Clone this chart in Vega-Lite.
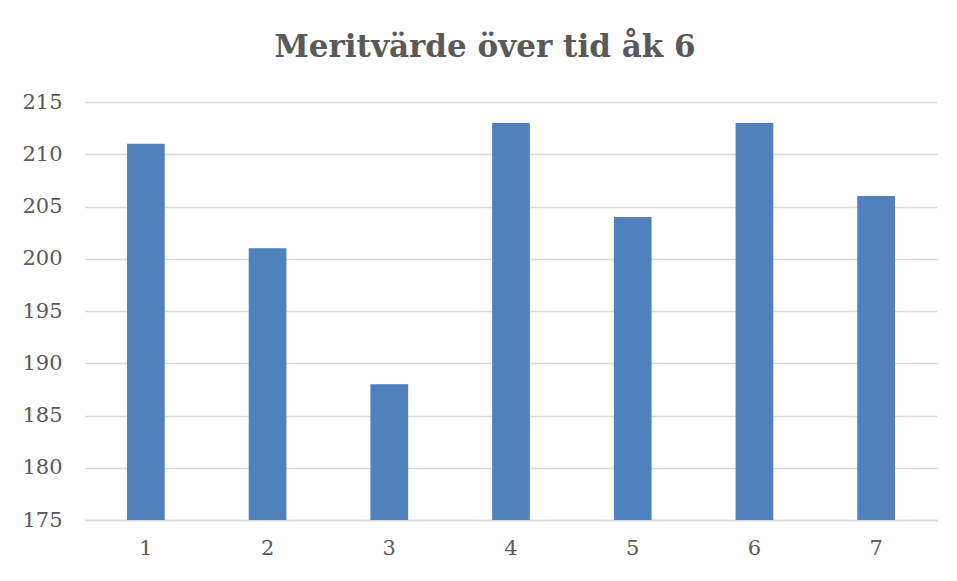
{
  "$schema": "https://vega.github.io/schema/vega-lite/v6.json",
  "autosize": "none",
  "width": 852,
  "height": 418,
  "padding": {"left": 85, "top": 102, "right": 20, "bottom": 61},
  "background": "white",
  "title": {
    "text": "Meritvärde över tid åk 6",
    "font": "DejaVu Serif",
    "fontWeight": "bold",
    "fontSize": 31,
    "color": "#595959",
    "anchor": "middle",
    "frame": "group",
    "dx": -26,
    "offset": 27
  },
  "data": {
    "values": [
      {"x": "1", "v": 211},
      {"x": "2", "v": 201},
      {"x": "3", "v": 188},
      {"x": "4", "v": 213},
      {"x": "5", "v": 204},
      {"x": "6", "v": 213},
      {"x": "7", "v": 206}
    ]
  },
  "mark": {"type": "bar", "color": "#4f81bd", "clip": true},
  "encoding": {
    "x": {
      "field": "x",
      "type": "ordinal",
      "scale": {"paddingInner": 0.69, "paddingOuter": 0.345},
      "axis": {
        "title": null,
        "labelAngle": 0,
        "ticks": false,
        "domainColor": "#d9d9d9",
        "domainWidth": 1.5,
        "labelPadding": 17,
        "labelFont": "DejaVu Serif",
        "labelFontSize": 21,
        "labelColor": "#595959"
      }
    },
    "y": {
      "field": "v",
      "type": "quantitative",
      "scale": {"domain": [175, 215], "nice": false, "zero": false},
      "axis": {
        "title": null,
        "values": [175, 180, 185, 190, 195, 200, 205, 210, 215],
        "domain": false,
        "ticks": false,
        "gridColor": "#d9d9d9",
        "gridWidth": 1.3,
        "labelPadding": 23,
        "labelFont": "DejaVu Serif",
        "labelFontSize": 21,
        "labelColor": "#595959"
      }
    }
  },
  "config": {"view": {"stroke": null}}
}
